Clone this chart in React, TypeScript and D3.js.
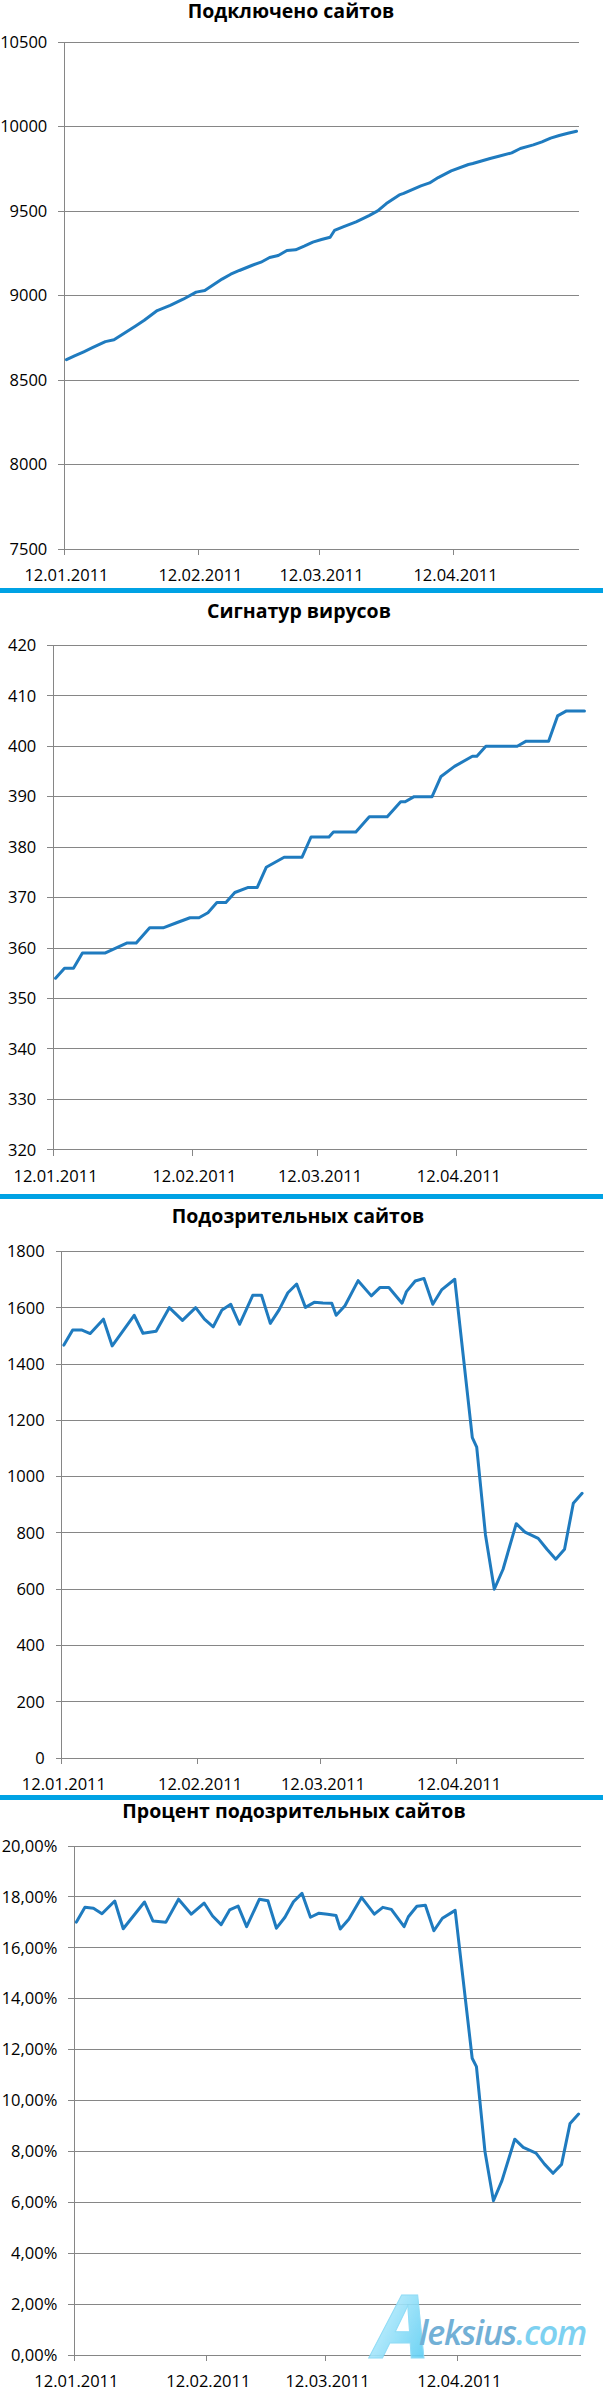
import * as d3 from 'd3';

const W = 603;
const H = 2390;
const FONT = "'Open Sans', 'Liberation Sans', sans-serif";
const GRID = '#868686';
const LINE = '#1f7bbf';
const BAR = '#00a2e4';

// x axis: one slot per day, 12.01.2011 .. 10.05.2011
const START = new Date(Date.UTC(2011, 0, 12));
const SLOTS = 119;
const TICK_DATES = ['2011-01-12', '2011-02-12', '2011-03-12', '2011-04-12'];

// sample days, counted from 12.01.2011
const DAYS = [
  0, 2, 4, 6, 9, 11, 16, 18, 21, 24, 27, 30, 32, 34, 36, 38, 40, 43, 45, 47, 49, 51, 53, 55, 57, 59, 61,
  62, 64, 67, 70, 72, 74, 77, 78, 80, 82, 84, 86, 89, 93, 94, 96, 98, 100, 103, 105, 108, 110, 112, 114, 116, 118,
];

const SITES = [
  8620, 8644, 8667, 8691, 8727, 8738, 8820, 8854, 8911, 8941, 8978, 9020, 9030, 9063, 9097, 9126, 9148, 9179,
  9197, 9225, 9237, 9266, 9270, 9292, 9316, 9331, 9345, 9385, 9406, 9436, 9473, 9501, 9544, 9595, 9604, 9627,
  9649, 9666, 9698, 9737, 9775, 9781, 9796, 9811, 9824, 9844, 9870, 9891, 9909, 9931, 9947, 9960, 9972,
];

const SIGNATURES = [
  354, 356, 356, 359, 359, 359, 361, 361, 364, 364, 365, 366, 366, 367, 369, 369, 371, 372,
  372, 376, 377, 378, 378, 378, 382, 382, 382, 383, 383, 383, 386, 386, 386, 389, 389, 390,
  390, 390, 394, 396, 398, 398, 400, 400, 400, 400, 401, 401, 401, 406, 407, 407, 407,
];

const SUSPICIOUS = [
  1468, 1522, 1522, 1509, 1560, 1465, 1574, 1510, 1517, 1601, 1556, 1601, 1560, 1533, 1593, 1613, 1542, 1645,
  1645, 1545, 1593, 1654, 1685, 1602, 1620, 1618, 1617, 1574, 1608, 1697, 1643, 1673, 1673, 1617, 1658, 1696,
  1705, 1613, 1664, 1702, 1139, 1105, 793, 600, 671, 833, 803, 781, 742, 707, 742, 906, 941,
];

const SUSPICIOUS_PCT = [
  17.01, 17.59, 17.55, 17.34, 17.84, 16.75, 17.8, 17.05, 17.0, 17.91, 17.32, 17.76, 17.25, 16.91, 17.49, 17.64, 16.83, 17.91,
  17.85, 16.77, 17.2, 17.81, 18.14, 17.2, 17.36, 17.32, 17.27, 16.74, 17.12, 17.98, 17.32, 17.59, 17.51, 16.83, 17.22, 17.63,
  17.67, 16.67, 17.16, 17.47, 11.66, 11.33, 8.0, 6.06, 6.85, 8.48, 8.16, 7.93, 7.5, 7.14, 7.49, 9.1, 9.47,
];

const SITES_TICKS = [7500, 8000, 8500, 9000, 9500, 10000, 10500];
const SIGNATURE_TICKS = [320, 330, 340, 350, 360, 370, 380, 390, 400, 410, 420];
const SUSPICIOUS_TICKS = [0, 200, 400, 600, 800, 1000, 1200, 1400, 1600, 1800];
const PCT_TICKS = [0, 2, 4, 6, 8, 10, 12, 14, 16, 18, 20];

const ru = d3.formatLocale({ decimal: ',', thousands: '\u00a0', grouping: [3], currency: ['', ' руб.'] });
const fmtInt = (v: number) => String(v);
const fmtPct = (v: number) => ru.format('.2f')(v) + '%';
const fmtDate = d3.utcFormat('%d.%m.%Y');

interface PanelDef {
  title: string;
  values: number[];
  ticks: number[];
  fmt: (v: number) => string;
  top: number;
  bottom: number;
  left: number;
  right: number;
  titleX: number;
  titleY: number;
}

const PANELS: PanelDef[] = [
  { title: 'Подключено сайтов', values: SITES, ticks: SITES_TICKS, fmt: fmtInt, top: 42, bottom: 549, left: 64.3, right: 578.7, titleX: 291, titleY: 18 },
  { title: 'Сигнатур вирусов', values: SIGNATURES, ticks: SIGNATURE_TICKS, fmt: fmtInt, top: 645.3, bottom: 1149.8, left: 53.3, right: 586.7, titleX: 299, titleY: 618 },
  { title: 'Подозрительных сайтов', values: SUSPICIOUS, ticks: SUSPICIOUS_TICKS, fmt: fmtInt, top: 1251.7, bottom: 1758, left: 61.7, right: 584.3, titleX: 298, titleY: 1223 },
  { title: 'Процент подозрительных сайтов', values: SUSPICIOUS_PCT, ticks: PCT_TICKS, fmt: fmtPct, top: 1846, bottom: 2355, left: 74.3, right: 580.7, titleX: 294, titleY: 1818 },
];

const SEPARATORS = [588, 1194, 1795];

function Panel({ p }: { p: PanelDef }) {
  const x = d3.scaleUtc().domain([START, d3.utcDay.offset(START, SLOTS)]).range([p.left, p.right]);
  const y = d3.scaleLinear().domain([p.ticks[0], p.ticks[p.ticks.length - 1]]).range([p.bottom, p.top]);
  // points sit in the middle of their day slot
  const at = (d: number) => d3.utcHour.offset(d3.utcDay.offset(START, d), 12);
  const path = d3.line<number>()
    .x((d) => x(at(d)))
    .y((_, i) => y(p.values[i]))(DAYS);
  const halfSlot = (p.right - p.left) / SLOTS / 2;

  return (
    <g>
      <text x={p.titleX} y={p.titleY} textAnchor="middle" fontFamily={FONT} fontWeight={700} fontSize={19.5} fill="#000">
        {p.title}
      </text>
      {p.ticks.map((t) => (
        <g key={t}>
          <line x1={p.left - 6} x2={p.right} y1={y(t)} y2={y(t)} stroke={GRID} strokeWidth={1} shapeRendering="crispEdges" />
          <text x={p.left - 17} y={y(t)} dy="0.35em" textAnchor="end" fontFamily={FONT} fontSize={16.5} fill="#000">
            {p.fmt(t)}
          </text>
        </g>
      ))}
      <line x1={p.left} x2={p.left} y1={p.top} y2={p.bottom} stroke={GRID} strokeWidth={1} shapeRendering="crispEdges" />
      {TICK_DATES.map((s) => {
        const dt = new Date(s + 'T00:00:00Z');
        const tx = x(dt);
        return (
          <g key={s}>
            <line x1={tx} x2={tx} y1={p.bottom} y2={p.bottom + 6} stroke={GRID} strokeWidth={1} shapeRendering="crispEdges" />
            <text x={tx + halfSlot} y={p.bottom + 26} dy="0.35em" textAnchor="middle" fontFamily={FONT} fontSize={16.5} fill="#000">
              {fmtDate(dt)}
            </text>
          </g>
        );
      })}
      <path d={path ?? ''} fill="none" stroke={LINE} strokeWidth={3} strokeLinejoin="round" strokeLinecap="round" />
    </g>
  );
}

function Watermark() {
  return (
    <g opacity={0.9}>
      <defs>
        <linearGradient id="wm-a" x1="0" y1="0" x2="1" y2="1">
          <stop offset="0" stopColor="#ffffff" />
          <stop offset="0.4" stopColor="#a6e6fb" />
          <stop offset="1" stopColor="#45c6f1" />
        </linearGradient>
      </defs>
      <text x={374} y={2358} fontFamily={FONT} fontStyle="italic" fontWeight={700} fontSize={88} fill="url(#wm-a)" stroke="#86d9f6" strokeWidth={1}>
        A
      </text>
      <text x={419} y={2345} fontFamily={FONT} fontStyle="italic" fontWeight={600} fontSize={34} letterSpacing={-1.2}>
        <tspan fill="#63a8d2">leksius</tspan>
        <tspan fill="#6fcdf0">.com</tspan>
      </text>
    </g>
  );
}

export default function App() {
  return (
    <div style={{ position: 'absolute', left: 0, top: 0, width: W, height: H, background: '#fff' }}>
      <svg width={W} height={H} style={{ display: 'block' }}>
        <rect width={W} height={H} fill="#fff" />
        {SEPARATORS.map((sy) => (
          <rect key={sy} x={0} y={sy} width={W} height={5} fill={BAR} />
        ))}
        {PANELS.map((p) => (
          <Panel key={p.title} p={p} />
        ))}
        <Watermark />
      </svg>
    </div>
  );
}
